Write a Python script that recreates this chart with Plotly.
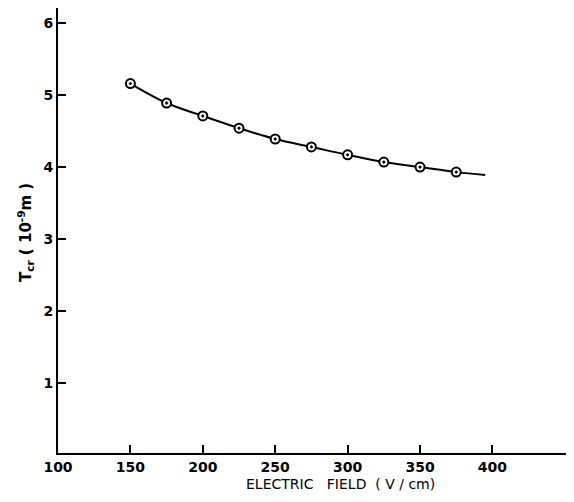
import plotly.graph_objects as go

# Data
field = [150, 175, 200, 225, 250, 275, 300, 325, 350, 375]
tcr = [5.16, 4.89, 4.71, 4.54, 4.39, 4.28, 4.17, 4.07, 4.00, 3.93]
curve_field = [150, 175, 200, 225, 250, 275, 300, 325, 350, 375, 395]
curve_tcr = [5.16, 4.89, 4.71, 4.54, 4.39, 4.28, 4.17, 4.07, 4.00, 3.93, 3.89]
xticks = [100, 150, 200, 250, 300, 350, 400]
yticks = [1, 2, 3, 4, 5, 6]

font_family = "DejaVu Sans"

# figure is drawn inside the page's 8px body margin
W, H = 558, 486
L, R, T, B = 50, 0, 0, 41
pw, ph = W - L - R, H - T - B

fig = go.Figure()
fig.add_trace(go.Scatter(x=curve_field, y=curve_tcr, mode="lines",
                         line=dict(color="black", width=2, shape="spline", smoothing=1.0),
                         hoverinfo="skip", showlegend=False))
fig.add_trace(go.Scatter(x=field, y=tcr, mode="markers",
                         marker=dict(symbol="circle-dot", size=9, color="white",
                                     line=dict(color="black", width=2)),
                         showlegend=False))

fig.update_layout(
    width=W, height=H,
    margin=dict(l=L, r=R, t=T, b=B, autoexpand=False),
    paper_bgcolor="white", plot_bgcolor="white",
    font=dict(family=font_family, color="black", size=13),
    xaxis=dict(range=[100, 450.8], tickvals=xticks, ticktext=[str(v) for v in xticks],
               showgrid=False, zeroline=False, showline=True, linecolor="black", linewidth=2,
               ticks="inside", ticklen=8, tickwidth=2, tickcolor="black",
               tickfont=dict(family=font_family, size=14, weight="bold")),
    yaxis=dict(range=[0.028, 6.21], tickvals=yticks, ticktext=[str(v) for v in yticks],
               showgrid=False, zeroline=False, showline=True, linecolor="black", linewidth=2,
               ticks="inside", ticklen=8, tickwidth=2, tickcolor="black",
               tickfont=dict(family=font_family, size=14, weight="bold")),
    annotations=[
        dict(text="ELECTRIC   FIELD  ( V / cm)", xref="paper", yref="paper",
             x=(332 - L) / pw, y=-(H - (H - B)) / ph, showarrow=False,
             xanchor="center", yanchor="bottom",
             font=dict(family=font_family, size=14)),
        dict(text="T<sub>cr</sub> ( 10<sup>-9</sup>m )", xref="paper", yref="paper",
             x=-(L - 17) / pw, y=((H - B) - 225) / ph, showarrow=False, textangle=-90,
             xanchor="center", yanchor="middle",
             font=dict(family=font_family, size=15, weight="bold")),
    ],
)

fig.write_html("out.html")
